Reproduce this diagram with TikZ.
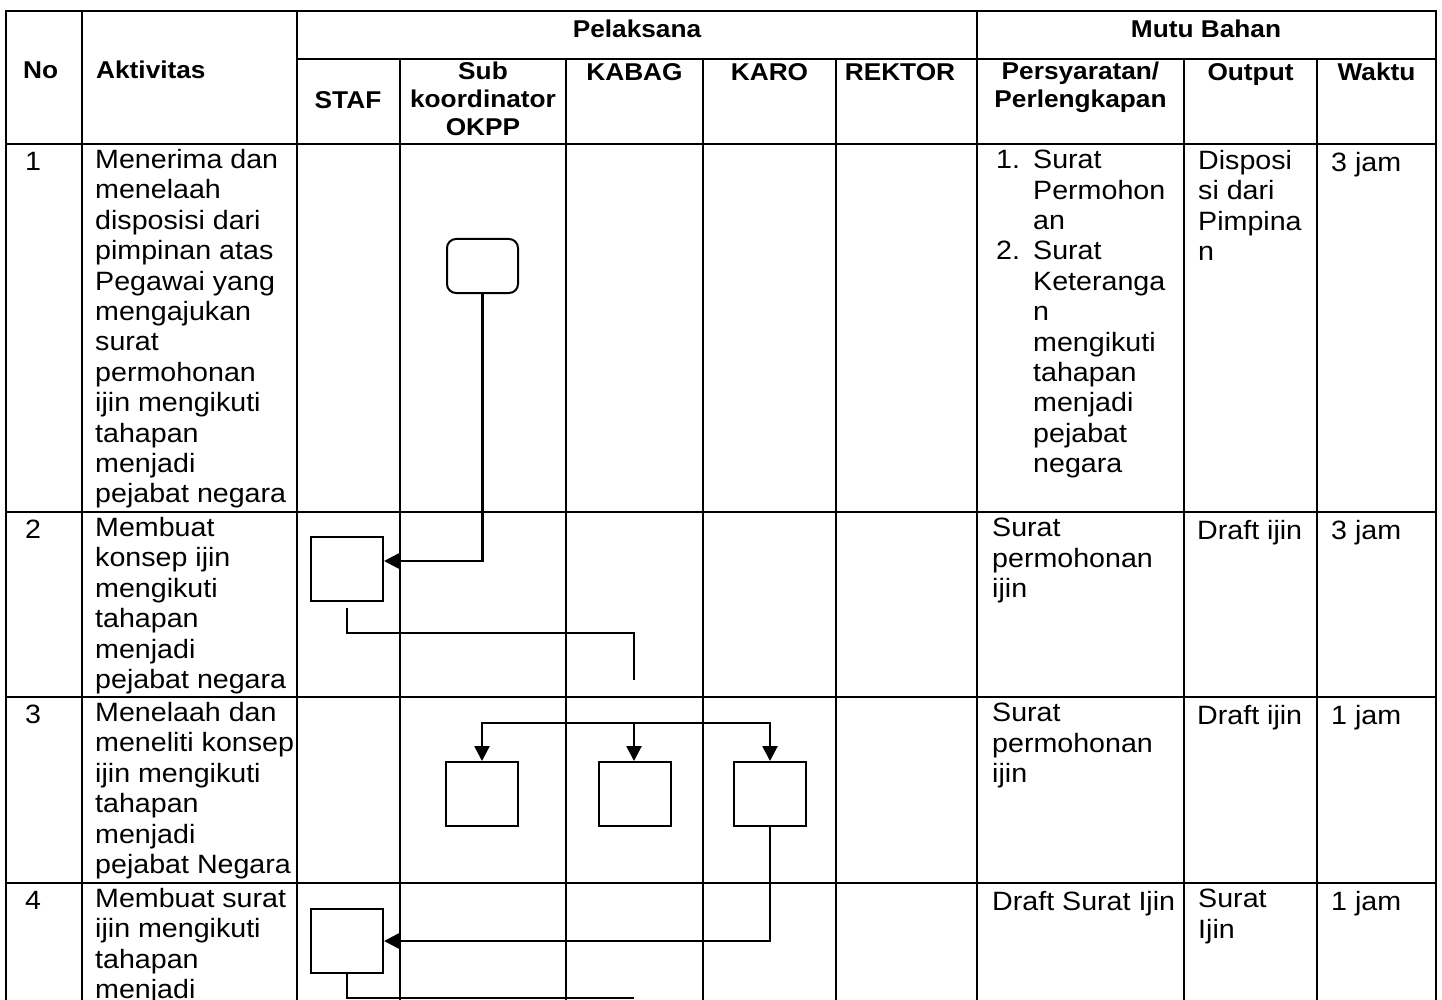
\documentclass[tikz,border=0pt]{standalone}
\usepackage{fontspec}
\setmainfont{Liberation Sans}[FakeStretch=1.08]
\usetikzlibrary{arrows.meta, positioning}
\newcommand{\bodysize}{\fontsize{26.5pt}{30.4pt}\selectfont}
\newcommand{\headsize}{\fontsize{24.3pt}{27.9pt}\selectfont\bfseries}

\begin{document}
\begin{tikzpicture}[
                        x=1pt, y=-1pt,
                        >={Triangle[length=15pt, width=15pt]},
                        grid/.style={line width=2.3pt, line cap=rect},
                        head/.style={font=\headsize, inner sep=0pt, anchor=base},
                        headml/.style={head, anchor=north, align=center, execute at begin node=\strut},
                        cell/.style={
                                font=\bodysize, inner sep=0pt,
                                anchor=north west, align=left,
                                execute at begin node=\strut
                            },
                        procbox/.style={
                                rectangle, draw, line width=2pt,
                                minimum width=72pt, minimum height=64pt, inner sep=0pt
                            },
                        termbox/.style={procbox, rounded corners=9pt, minimum width=71pt, minimum height=54pt},
                        flow/.style={line width=2.6pt}
                    ]

                    \useasboundingbox (0,0) rectangle (1442,1000);
                    \clip (0,0) rectangle (1442,1000);

                    % ===== Table grid =====
                    \draw[grid] (6,1010) -- (6,11) -- (1436,11) -- (1436,1010);
                    \draw[grid] (297,59) -- (1436,59);
                    \foreach \y in {144,512,697,883} \draw[grid] (6,\y) -- (1436,\y);
                    \foreach \x in {82,297,977} \draw[grid] (\x,11) -- (\x,1010);
                    \foreach \x in {400,566,703,836,1184,1317} \draw[grid] (\x,59) -- (\x,1010);

                    % ===== Header =====
                    \node[head, anchor=base west] (hno) at (23,79) {No};
                    \node[head, anchor=base west] (hakt) at (96,79) {Aktivitas};
                    \node[head] (hpel) at (637,38) {Pelaksana};
                    \node[head] (hmutu) at (1206,38) {Mutu Bahan};
                    \node[head] (hstaf) at (348,109) {STAF};
                    \node[headml] (hsub) at (483,61.5) {Sub\\koordinator\\OKPP};
                    \node[head] (hkabag) at (634.5,81) {KABAG};
                    \node[head] (hkaro) at (769.5,81) {KARO};
                    \node[head] (hrektor) at (900,81) {REKTOR};
                    \node[headml] (hsyarat) at (1080.5,61.5) {Persyaratan/\\Perlengkapan};
                    \node[head] (houtput) at (1250.5,81) {Output};
                    \node[head] (hwaktu) at (1376.5,81) {Waktu};

                    % ===== Row 1 =====
                    \node[cell] (no1) at (25,149) {1};
                    \node[cell] (akt1) at (95,149) {Menerima dan\\menelaah\\disposisi dari\\pimpinan atas\\Pegawai yang\\mengajukan\\surat\\permohonan\\ijin mengikuti\\tahapan\\menjadi\\pejabat negara};
                    \node[cell] (num1) at (996,150) {1.\\[60.8pt]2.};
                    \node[cell] (syarat1) at (1033,150) {Surat\\Permohon\\an\\Surat\\Keteranga\\n\\mengikuti\\tahapan\\menjadi\\pejabat\\negara};
                    \node[cell] (out1) at (1198,150) {Disposi\\si dari\\Pimpina\\n};
                    \node[cell] (time1) at (1331,150) {3 jam};

                    % ===== Row 2 =====
                    \node[cell] (no2) at (25,517) {2};
                    \node[cell] (akt2) at (95,517) {Membuat\\konsep ijin\\mengikuti\\tahapan\\menjadi\\pejabat negara};
                    \node[cell] (syarat2) at (992,518) {Surat\\permohonan\\ijin};
                    \node[cell] (out2) at (1197,518) {Draft ijin};
                    \node[cell] (time2) at (1331,518) {3 jam};

                    % ===== Row 3 =====
                    \node[cell] (no3) at (25,702) {3};
                    \node[cell] (akt3) at (95,702) {Menelaah dan\\meneliti konsep\\ijin mengikuti\\tahapan\\menjadi\\pejabat Negara};
                    \node[cell] (syarat3) at (992,703) {Surat\\permohonan\\ijin};
                    \node[cell] (out3) at (1197,703) {Draft ijin};
                    \node[cell] (time3) at (1331,703) {1 jam};

                    % ===== Row 4 =====
                    \node[cell] (no4) at (25,888) {4};
                    \node[cell] (akt4) at (95,888) {Membuat surat\\ijin mengikuti\\tahapan\\menjadi};
                    \node[cell] (syarat4) at (992,889) {Draft Surat Ijin};
                    \node[cell] (out4) at (1198,889) {Surat\\Ijin};
                    \node[cell] (time4) at (1331,889) {1 jam};

                    % ===== Flow symbols =====
                    \node[termbox] (term) at (482.5,266) {};
                    \node[procbox] (staf2) at (347,569) {};
                    \node[procbox] (sub3) at (482,794) {};
                    \node[procbox, right=79pt of sub3] (kabag3) {};
                    \node[procbox, right=61pt of kabag3] (karo3) {};
                    \node[procbox] (staf4) at (347,941) {};

                    \coordinate (end2) at (634,680);
                    \coordinate (fork) at (634,723);
                    \coordinate (end4) at (634,998);

                    % ===== Connectors =====
                    \draw[flow, ->] (term.south) |- ([yshift=8pt]staf2.east);
                    \draw[flow, shorten <=6pt] (staf2.south) -- ++(0,31) -| (end2);
                    \draw[flow, ->] (fork) -| (sub3.north);
                    \draw[flow, ->] (fork) -- (fork |- kabag3.north);
                    \draw[flow, ->] (fork) -| (karo3.north);
                    \draw[flow, ->] (karo3.south) |- (staf4.east);
                    \draw[flow] (staf4.south) |- (end4);

                \end{tikzpicture}
\end{document}
